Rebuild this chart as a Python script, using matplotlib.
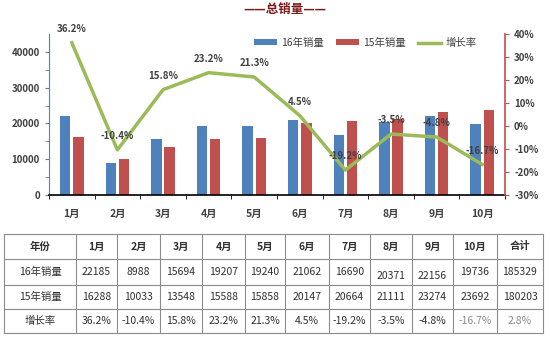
import matplotlib.pyplot as plt
import numpy as np

plt.rcParams['font.family'] = ['Noto Sans CJK SC', 'DejaVu Sans']

months = ['1月', '2月', '3月', '4月', '5月', '6月', '7月', '8月', '9月', '10月']
sales_16 = [22185, 8988, 15694, 19207, 19240, 21062, 16690, 20371, 22156, 19736]
sales_15 = [16288, 10033, 13548, 15588, 15858, 20147, 20664, 21111, 23274, 23692]
growth = [36.2, -10.4, 15.8, 23.2, 21.3, 4.5, -19.2, -3.5, -4.8, -16.7]
total_16 = 185329
total_15 = 180203
total_growth = 2.8

blue = '#4F81BD'
red = '#C0504D'
green = '#9BBB59'
txt = '#404040'

W, H = 550, 338
fig = plt.figure(figsize=(W / 100, H / 100), dpi=100)

def px_rect(x0, y0, x1, y1):
    # pixel box (top-left origin) -> figure fraction
    return [x0 / W, 1 - y1 / H, (x1 - x0) / W, (y1 - y0) / H]

# ---- chart ----
ax = fig.add_axes(px_rect(49, 34, 505, 195))
x = np.arange(len(months))
bw = 0.23
ax.bar(x - bw / 2 - 0.03, sales_16, bw, color=blue, label='16年销量', zorder=2)
ax.bar(x + bw / 2 + 0.03, sales_15, bw, color=red, label='15年销量', zorder=2)
ax.set_xlim(-0.5, len(months) - 0.5)
ax.set_ylim(0, 45000)
ax.set_yticks(range(0, 45000, 10000))
ax.set_yticks(range(5000, 45000, 10000), minor=True)
ax.set_xticks(x)
ax.set_xticklabels(months)
ax.set_xticks(np.arange(-0.5, len(months)), minor=True)
ax.tick_params(axis='x', which='major', length=0, pad=10, labelsize=7.5, labelcolor=txt)
ax.tick_params(axis='x', which='minor', length=3, direction='out', color='black')
ax.tick_params(axis='y', which='both', length=3, direction='out', color=blue,
               labelsize=7, labelcolor=txt)
for lab in ax.get_xticklabels() + ax.get_yticklabels():
    lab.set_fontweight('bold')
ax.spines['top'].set_visible(False)
ax.spines['right'].set_visible(False)
ax.spines['left'].set_color(blue)
ax.spines['bottom'].set_color('black')
ax.spines['bottom'].set_linewidth(1.2)

ax2 = ax.twinx()
line, = ax2.plot(x, growth, color=green, lw=2.5, label='增长率', zorder=3)
ax2.set_ylim(-30, 40)
ax2.set_yticks(range(-30, 41, 10))
ax2.set_yticklabels([f'{v}%' for v in range(-30, 41, 10)])
ax2.tick_params(axis='y', length=3, direction='out', color=red, labelsize=7, labelcolor=txt)
for lab in ax2.get_yticklabels():
    lab.set_fontweight('bold')
for s in ['top', 'left', 'bottom']:
    ax2.spines[s].set_visible(False)
ax2.spines['right'].set_color(red)
ax2.spines['right'].set_linewidth(1.2)

for xi, g in zip(x, growth):
    ax2.annotate(f'{g}%', (xi, g), xytext=(0, 10), textcoords='offset points',
                 ha='center', va='center', fontsize=7, fontweight='bold', color=txt)

handles = [ax.containers[0], ax.containers[1], line]
fig.legend(handles, ['16年销量', '15年销量', '增长率'], loc='center',
           bbox_to_anchor=(365 / W, 1 - 43 / H), ncol=3, frameon=False,
           fontsize=7.5, handlelength=2.2, handleheight=0.5, columnspacing=1.2,
           handletextpad=0.4, labelcolor=txt)

fig.text(285 / W, 1 - 9 / H, '——总销量——', ha='center', va='center',
         fontsize=9, fontweight='bold', color='#7B1A1A')

# ---- table ----
tx = fig.add_axes([0, 0, 1, 1])
tx.set_xlim(0, W)
tx.set_ylim(H, 0)
tx.axis('off')
col_edges = [4, 76, 117, 160, 202, 245, 285, 329, 370, 412, 453, 497, 543]
row_edges = [234, 259, 285, 309, 333]
for cx in col_edges:
    tx.plot([cx, cx], [row_edges[0], row_edges[-1]], color='#8C8C8C', lw=0.8)
for ry in row_edges:
    tx.plot([col_edges[0], col_edges[-1]], [ry, ry], color='#8C8C8C', lw=0.8)

rows = [
    ['年份'] + months + ['合计'],
    ['16年销量'] + [str(v) for v in sales_16] + [str(total_16)],
    ['15年销量'] + [str(v) for v in sales_15] + [str(total_15)],
    ['增长率'] + [f'{v}%' for v in growth] + [f'{total_growth}%'],
]
for r, row in enumerate(rows):
    yc = (row_edges[r] + row_edges[r + 1]) / 2
    for c, val in enumerate(row):
        xc = (col_edges[c] + col_edges[c + 1]) / 2
        dy = 0
        color = '#303030'
        if r == 1 and c in (8, 9):
            dy = 4
        if r == 3 and c in (10, 11):
            color = '#8A8A8A'
        tx.text(xc, yc + dy, val, ha='center', va='center', fontsize=7.5,
                fontweight='bold' if r == 0 else 'normal', color=color)

fig.savefig('out.png', dpi=100)
